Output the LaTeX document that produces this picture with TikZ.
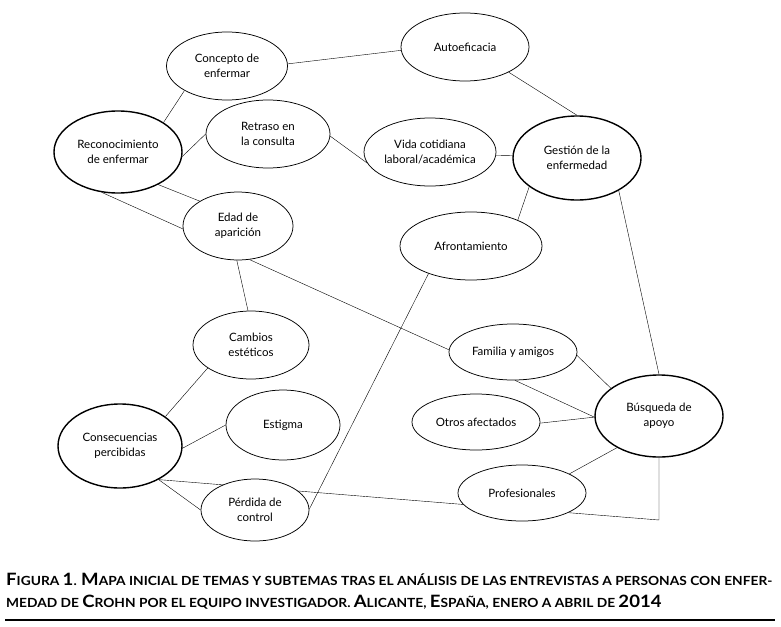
\documentclass[tikz,border=0pt]{standalone}
\usepackage{fontspec}
\setmainfont{Lato}
\usetikzlibrary{shapes.geometric,backgrounds}
\newcommand\BigC[1]{{\fontsize{17}{19}\selectfont #1}}
\newcommand\capfont{\fontsize{12.6}{14}\selectfont\bfseries}
\begin{document}
\begin{tikzpicture}[x=1pt,y=-1pt,
  el/.style 2 args={draw, ellipse, fill=white, inner sep=0pt, line width=0.75pt,
     minimum width=#1pt, minimum height=#2pt, align=center,
     font=\fontsize{11.5}{15}\selectfont},
  main/.style={line width=1.4pt},
  edge/.style={line width=0.75pt},
  captxt/.style={anchor=base west, inner sep=0pt, font=\capfont}]
\useasboundingbox (0,0) rectangle (781,626);
% nodes
\node[el={121}{68}] (concepto) at (227,66) {Concepto de\\enfermar};
\node[el={128}{68}] (auto) at (465,47) {Autoeficacia};
\node[el={128}{82},main] (reco) at (118,152) {Reconocimiento\\de enfermar};
\node[el={124}{68}] (retraso) at (268,134) {Retraso en\\la consulta};
\node[el={132}{68}] (vida) at (430,152) {Vida cotidiana\\laboral/académica};
\node[el={128}{84},main] (gestion) at (577,158) {Gestión de la\\enfermedad};
\node[el={110}{68}] (edad) at (238,226) {Edad de\\aparición};
\node[el={142}{68}] (afront) at (471,246) {Afrontamiento};
\node[el={116}{68}] (cambios) at (251,345) {Cambios\\estéticos};
\node[el={128}{56}] (familia) at (513,352) {Familia y amigos};
\node[el={124}{84},main] (consec) at (120,446) {Consecuencias\\percibidas};
\node[el={114}{70}] (estigma) at (283,425) {Estigma};
\node[el={128}{56}] (otros) at (476,422) {Otros afectados};
\node[el={128}{82},main] (busqueda) at (659,416) {Búsqueda de\\apoyo};
\node[el={128}{56}] (prof) at (522,493) {Profesionales};
\node[el={108}{62}] (perdida) at (255,510) {Pérdida de\\control};
\coordinate (corner) at (659,520);
% edges
\begin{scope}[on background layer, edge]
\draw (concepto.2) -- (auto.183);
\draw (concepto.210) -- (reco.33);
\draw (auto.-30) -- (gestion.90);
\draw (reco.-4) -- (retraso.180);
\draw (retraso.-2) -- (vida.190);
\draw (vida.-3.5) -- (gestion.178);
\draw (reco.-39) -- (edad.147);
\draw (reco.248) -- (edad.183);
\draw (edad.268) -- (cambios.95);
\draw (edad.289) -- (familia.178);
\draw (gestion.211) -- (afront.29.5);
\draw (gestion.-38) -- (busqueda.90);
\draw (afront.213) -- (perdida.1);
\draw (familia.-3) -- (busqueda.150);
\draw (familia.274) -- (busqueda.181);
\draw (otros.-1) -- (busqueda.181);
\draw (busqueda.217) -- (prof.22.6);
\draw (busqueda.270) -- (corner) -- (prof.-23.5);
\draw (consec.33) -- (cambios.208);
\draw (consec.-2) -- (estigma.180);
\draw (consec.-41) -- (perdida.180);
\draw (consec.-41) -- (prof.191);
\end{scope}
% caption
\node[captxt] (cap1) at (6,585)
 {\scalebox{1.092}[1]{\BigC{F}IGURA \BigC{1}. \BigC{M}APA INICIAL DE TEMAS Y SUBTEMAS TRAS EL ANÁLISIS DE LAS ENTREVISTAS A PERSONAS CON ENFER-}};
\node[captxt] (cap2) at (6,607)
 {\scalebox{1.092}[1]{MEDAD DE \BigC{C}ROHN POR EL EQUIPO INVESTIGADOR. \BigC{A}LICANTE, \BigC{E}SPAÑA, ENERO A ABRIL DE \BigC{2014}}};
\coordinate (r1) at (5,620);
\coordinate (r2) at (775,620);
\draw[line width=1.3pt] (r1) -- (r2);
\end{tikzpicture}
\end{document}
